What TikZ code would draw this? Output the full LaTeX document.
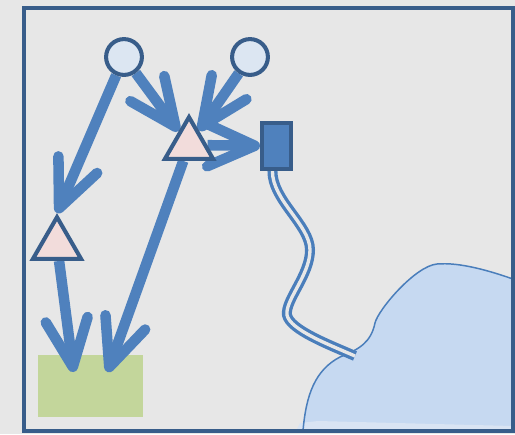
\documentclass[tikz,border=0pt]{standalone}
\usepackage{xcolor}
\usepackage{tikz}
\usetikzlibrary{arrows.meta, shapes.geometric, calc}
\definecolor{paper}{HTML}{E7E7E7}
\definecolor{edge}{HTML}{385D8A}
\definecolor{flowblue}{HTML}{4F81BD}
\definecolor{sky}{HTML}{DCE6F2}
\definecolor{rose}{HTML}{F2DCDB}
\definecolor{moss}{HTML}{C3D69B}
\definecolor{lake}{HTML}{C6D9F1}
\definecolor{lakehi}{HTML}{D9E4F3}
\definecolor{shore}{HTML}{4A7EBB}
\pgfdeclarelayer{front}
\pgfsetlayers{main,front}

\begin{document}
\begin{tikzpicture}[x=0.02cm, y=-0.02cm,
    src/.style={circle, draw=edge, fill=sky, line width=2.3pt, minimum size=20.4pt, inner sep=0pt},
    tri/.style={regular polygon, regular polygon sides=3, draw=edge, fill=rose, line width=2.3pt, minimum size=31.7pt, inner sep=0pt},
    flow/.style={draw=flowblue, line width=6pt, -{Straight Barb[length=27pt, width=24pt, round]}},
    cable/.style={draw=shore, line width=1.9pt, double=paper, double distance=1.9pt}]
  % page
  \useasboundingbox (0,0) rectangle (515,434);
  \fill[paper] (0,0) rectangle (515,434);
  % lake
  \def\shoreline{(303,431) .. controls (306,395) and (315,370) .. (340,357)
    .. controls (360,349) and (371,342) .. (375,323)
    .. controls (378,310) and (415,266) .. (437,264)
    .. controls (460,262) and (490,271) .. (513,279)}
  \fill[lake] \shoreline -- (513,431) -- cycle;
  \fill[lakehi] (296,431) -- (300,423) -- (318,421) -- (513,426) -- (513,431) -- cycle;
  \draw[shore, line width=0.85pt] \shoreline;
  \node[fill=moss, minimum width=59.5pt, minimum height=35.1pt, inner sep=0pt] (g1) at (90.5,386) {};
  \begin{pgfonlayer}{front}
    \foreach \n/\x in {c1/124, c2/250}
      \node[src] (\n) at (\x,57) {};
    \node[tri] (t1) at (189,145) {};
    \node[tri] (t2) at (57,245) {};
    \node[draw=edge, fill=flowblue, line width=2.5pt, minimum width=16.2pt, minimum height=25.9pt, inner sep=0pt] (r1) at (276.5,146) {};
    % frame
    \draw[edge, line width=2.3pt] (24,8) rectangle (513.5,431);
  \end{pgfonlayer}
  % cable into the lake
  \coordinate (cbl) at (355,356);
  \draw[cable] ([xshift=-2.3pt]r1.south) .. controls (272,200) and (310,225) .. (310,250)
    .. controls (310,275) and (285,300) .. (287,315)
    .. controls (290,330) and (330,345) .. (cbl);
  % arrows
  \foreach \a/\b in {c1/t2.corner 1, c1/t1, c2/t1, t1/r1}
    \draw[flow] (\a) -- (\b);
  \draw[flow] (t1) -- ($(g1)+(17,-14)$);
  \draw[flow] (t2) -- ($(g1)+(-17,-14)$);
\end{tikzpicture}
\end{document}
